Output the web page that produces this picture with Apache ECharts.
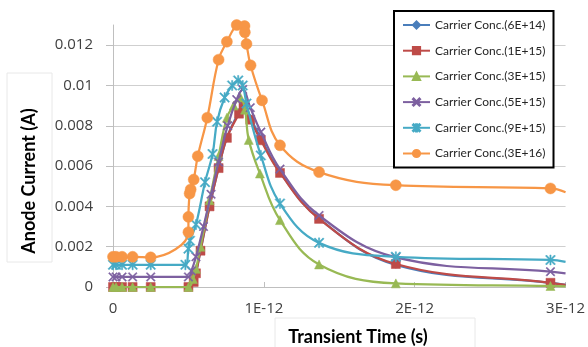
<!DOCTYPE html>
<html>
<head>
<meta charset="utf-8">
<script src="https://cdn.jsdelivr.net/npm/echarts@6/dist/echarts.min.js"></script>
<style>
html,body{margin:0;padding:0;background:#fff;}
#chart{width:588px;height:347px;}
</style>
</head>
<body>
<div id="chart"></div>
<script>
// ---- data (time in ps, current in A) ----
const seriesNames = ['Carrier Conc.(6E+14)','Carrier Conc.(1E+15)','Carrier Conc.(3E+15)','Carrier Conc.(5E+15)','Carrier Conc.(9E+15)','Carrier Conc.(3E+16)'];
const xTickLabels = ['0','1E-12','2E-12','3E-12'];
const yTickValues = [0,0.002,0.004,0.006,0.008,0.010,0.012];

const t6E14 = [0,0.02,0.06,0.13,0.25,0.5,0.535,0.55,0.58,0.64,0.70,0.755,0.835,0.865,0.91,0.98,1.107,1.366,1.875,2.9,3.0];
const i6E14 = [0,0,0,0,0,0,0.0003,0.0007,0.0018,0.0040,0.0059,0.0074,0.0087,0.0091,0.0084,0.0074,0.0057,0.0034,0.0011,0.0002,0.0001];

const t1E15 = [0,0.02,0.06,0.13,0.25,0.5,0.535,0.55,0.58,0.64,0.70,0.755,0.835,0.865,0.91,0.98,1.107,1.366,1.875,2.9,3.0];
const i1E15 = [0,0,0,0,0,0,0.00025,0.00068,0.0018,0.0040,0.0059,0.0074,0.0086,0.0090,0.0083,0.00728,0.00566,0.00338,0.00114,0.00021,0.0001];

const t3E15 = [0,0.02,0.06,0.13,0.25,0.5,0.53,0.55,0.58,0.64,0.70,0.755,0.80,0.845,0.875,0.90,0.974,1.107,1.366,1.875,2.9,3.0];
const i3E15 = [0,0,0,0,0,0,0.0004,0.0009,0.0020,0.0043,0.0065,0.0084,0.0090,0.0094,0.0088,0.0073,0.00563,0.00332,0.00112,0.00018,0.00005,0.00003];

const t5E15 = [0,0.02,0.06,0.13,0.25,0.5,0.52,0.55,0.60,0.65,0.70,0.76,0.82,0.86,0.91,0.98,1.107,1.366,1.875,2.9,3.0];
const i5E15 = [0.0005,0.0005,0.0005,0.0005,0.0005,0.0005,0.0008,0.0015,0.0030,0.0046,0.0062,0.0080,0.0093,0.0098,0.0089,0.00769,0.00585,0.00355,0.00147,0.00076,0.00068];

const t9E15 = [0,0.02,0.06,0.13,0.25,0.48,0.5,0.51,0.55,0.61,0.66,0.69,0.74,0.79,0.83,0.86,0.885,0.98,1.107,1.366,1.875,2.9,3.0];
const i9E15 = [0.0011,0.0011,0.0011,0.0011,0.0011,0.0011,0.0019,0.0023,0.0031,0.0052,0.0066,0.0082,0.0094,0.0100,0.01025,0.0100,0.0091,0.00653,0.00414,0.00219,0.0015,0.00134,0.00125];

const t3E16 = [0,0.02,0.06,0.13,0.25,0.5,0.5,0.508,0.515,0.535,0.562,0.625,0.70,0.755,0.82,0.847,0.872,0.874,0.885,0.912,0.988,1.107,1.366,1.875,2.9,3.0];
const i3E16 = [0.0015,0.0015,0.0015,0.0015,0.00147,0.00272,0.00348,0.00464,0.00484,0.00533,0.00649,0.0084,0.01128,0.01217,0.0130,0.01305,0.01295,0.01264,0.01206,0.0110,0.00926,0.00703,0.0057,0.00505,0.00489,0.0047];

const colors = ['#4A7EBB','#BE4B48','#98B954','#7D60A0','#46AAC5','#F79646'];
const xPath = 'path://M0,1 L1,0 L5,4 L9,0 L10,1 L6,5 L10,9 L9,10 L5,6 L1,10 L0,9 L4,5 Z';
const starPath = 'path://M4.4,0 L5.6,0 L5.6,10 L4.4,10 Z M0,1 L1,0 L5,4 L9,0 L10,1 L6,5 L10,9 L9,10 L5,6 L1,10 L0,9 L4,5 Z';
const symbols = ['diamond','rect','triangle',xPath,starPath,'circle'];
const symbolSizes = [7,9,9,9,10,11];
const xs = [t6E14,t1E15,t3E15,t5E15,t9E15,t3E16];
const ys = [i6E14,i1E15,i3E15,i5E15,i9E15,i3E16];

function buildData(tx, iy){
  return tx.map((t,k)=>{
    const item = {value:[t, iy[k]]};
    if (k === tx.length-1) item.symbol = 'none';
    return item;
  });
}

const series = seriesNames.map((name,s)=>({
  name: name,
  type: 'line',
  smooth: 0.4,
  data: buildData(xs[s], ys[s]),
  symbol: symbols[s],
  symbolSize: symbolSizes[s],
  showAllSymbol: true,
  color: colors[s],
  lineStyle: {width: 2.25, color: colors[s]},
  itemStyle: {color: colors[s], borderColor: colors[s], borderWidth: 0.5},
  z: 2 + s
}));

const chart = echarts.init(document.getElementById('chart'), null, {renderer:'canvas'});
chart.setOption({
  animation: false,
  backgroundColor: '#ffffff',
  grid: {left: 113, right: 22, top: 25, bottom: 60, containLabel: false},
  legend: {
    orient: 'vertical',
    left: 394, top: 11,
    padding: [8,8,8,8],
    itemWidth: 27, itemHeight: 9, itemGap: 13.7,
    borderColor: '#000', borderWidth: 2,
    backgroundColor: '#fff',
    textStyle: {fontFamily: 'Lato', fontSize: 12, color: '#262626'},
    data: seriesNames
  },
  xAxis: {
    type: 'value', min: 0, max: 3, interval: 1,
    axisLine: {lineStyle: {color: '#bfbfbf', width: 1}},
    axisTick: {inside: true, length: 5, lineStyle: {color: '#bfbfbf'}},
    splitLine: {show: false},
    axisLabel: {
      margin: 14, fontFamily: 'Open Sans', fontSize: 15, color: '#404040',
      formatter: v => xTickLabels[Math.round(v)]
    }
  },
  yAxis: {
    type: 'value', min: 0, max: 0.013, interval: 0.002,
    axisLine: {show: true, lineStyle: {color: '#bfbfbf', width: 1}},
    axisTick: {show: true, length: 7, lineStyle: {color: '#bfbfbf'}, customValues: yTickValues},
    splitLine: {show: true, lineStyle: {color: ['#cfcfcf','#cfcfcf','#cfcfcf','#cfcfcf','#cfcfcf','#cfcfcf','#cfcfcf','rgba(0,0,0,0)'], width: 1}},
    axisLabel: {
      margin: 20, fontFamily: 'Open Sans', fontSize: 15, color: '#404040',
      customValues: yTickValues,
      formatter: v => (v === 0 ? '0' : String(+v.toFixed(3)))
    }
  },
  graphic: [
    {type:'rect', shape:{x:7, y:73, width:45, height:189}, style:{fill:'none', stroke:'#e8e8e8', lineWidth:1}, silent:true},
    {type:'text', x:29, y:181, rotation: Math.PI/2,
      style:{text:'Anode Current (A)', fontFamily:'Lato', fontWeight:'bold', fontSize:18, fill:'#000', textAlign:'center', textVerticalAlign:'middle'}},
    {type:'rect', shape:{x:275, y:318, width:200, height:40}, style:{fill:'none', stroke:'#e8e8e8', lineWidth:1}, silent:true},
    {type:'text', x:358, y:337, style:{text:'Transient Time (s)', fontFamily:'Lato', fontWeight:'bold', fontSize:18, fill:'#000', textAlign:'center', textVerticalAlign:'middle'}}
  ],
  series: series
});
</script>
</body>
</html>
